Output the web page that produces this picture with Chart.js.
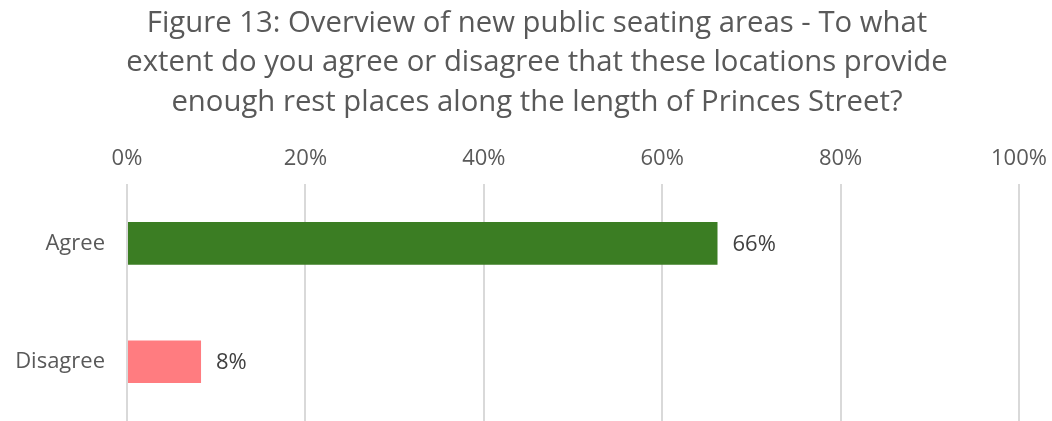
<!DOCTYPE html>
<html>
<head>
<meta charset="utf-8">
<script src="https://cdn.jsdelivr.net/npm/chart.js@4"></script>
<style>
  html, body { margin: 0; padding: 0; background: #fff; overflow: hidden; }
  canvas { display: block; }
</style>
</head>
<body>
<canvas id="barChart" width="1052" height="421"></canvas>
<script>
var titleLines = [
    'Figure 13: Overview of new public seating areas - To what',
    'extent do you agree or disagree that these locations provide',
    'enough rest places along the length of Princes Street?'
];
var categories = ['Agree', 'Disagree'];
var values = [66.2, 8.3];
var barColors = ['#3b7d23', '#ff7c80'];
var tickValues = [0, 20, 40, 60, 80, 100];

// little plugin for the value labels at the end of each bar
var valueLabels = {
    id: 'valueLabels',
    afterLayout: function (chart) {
        // title in the original sits a bit right of the canvas centre
        if (chart.titleBlock) { chart.titleBlock.left = 22; chart.titleBlock.right = chart.width; }
    },
    afterDatasetsDraw: function (chart) {
        var ctx = chart.ctx;
        var meta = chart.getDatasetMeta(0);
        ctx.save();
        ctx.font = '22px "Open Sans", sans-serif';
        ctx.fillStyle = '#404040';
        ctx.textBaseline = 'middle';
        ctx.textAlign = 'left';
        meta.data.forEach(function (bar, i) {
            ctx.fillText(Math.round(values[i]) + '%', bar.x + 15, bar.y + 1);
        });
        ctx.restore();
    }
};

var ctx = document.getElementById('barChart').getContext('2d');
var myChart = new Chart(ctx, {
    type: 'bar',
    data: {
        labels: categories,
        datasets: [{
            data: values,
            backgroundColor: barColors,
            borderWidth: 0,
            barPercentage: 0.36,
            categoryPercentage: 1
        }]
    },
    options: {
        indexAxis: 'y',
        responsive: false,
        animation: false,
        layout: { padding: { left: 0, right: 0, top: 0, bottom: -3 } },
        plugins: {
            legend: { display: false },
            tooltip: { enabled: false },
            title: {
                display: true,
                text: titleLines,
                color: '#595959',
                font: { family: '"Open Sans", sans-serif', size: 29.3, weight: 'normal', lineHeight: 1.34 },
                padding: { top: 4, bottom: 12 }
            }
        },
        scales: {
            x: {
                position: 'top',
                min: 0,
                max: 100,
                afterBuildTicks: function (scale) {
                    scale.ticks = tickValues.map(function (v) { return { value: v }; });
                },
                ticks: {
                    color: '#595959',
                    font: { family: '"Open Sans", sans-serif', size: 22 },
                    padding: 12,
                    callback: function (v) { return v + '%'; }
                },
                grid: { color: '#d9d9d9', lineWidth: 2, drawTicks: false },
                border: { display: false },
                afterFit: function (scale) { scale.paddingRight = 33; }
            },
            y: {
                ticks: {
                    color: '#595959',
                    font: { family: '"Open Sans", sans-serif', size: 22 },
                    padding: 14
                },
                grid: { display: false },
                border: { display: false },
                afterFit: function (scale) {
                    scale.width = 127;
                    scale.paddingTop = 0;
                    scale.paddingBottom = 0;
                }
            }
        }
    },
    plugins: [valueLabels]
});
</script>
</body>
</html>
